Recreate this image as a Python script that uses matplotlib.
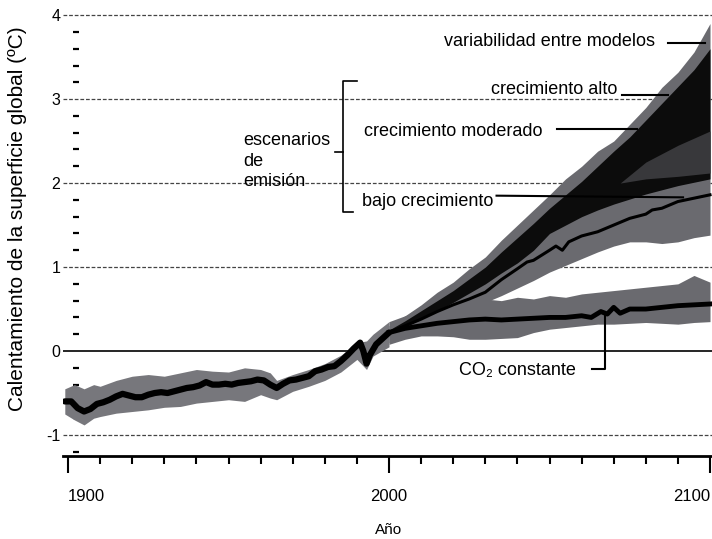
import numpy as np
import matplotlib
matplotlib.use('Agg')
import matplotlib.pyplot as plt
from matplotlib.ticker import MultipleLocator, FixedLocator

plt.rcParams['font.family'] = ['Liberation Sans', 'DejaVu Sans']
plt.rcParams['axes.unicode_minus'] = False

# --- observed record (1899-2000) ---
hist_years = [1899, 1901, 1903, 1905, 1907, 1909, 1911, 1913, 1915, 1917, 1919,
              1921, 1923, 1925, 1927, 1929, 1931, 1933, 1935, 1937, 1939, 1941,
              1943, 1945, 1947, 1949, 1951, 1953, 1955, 1957, 1959, 1961, 1963,
              1965, 1967, 1969, 1971, 1973, 1975, 1977, 1979, 1981, 1983, 1985,
              1987, 1989, 1991, 1992, 1993, 1994, 1996, 1998, 2000]
hist_temp = [-0.60, -0.60, -0.68, -0.72, -0.69, -0.63, -0.61, -0.58, -0.54,
             -0.51, -0.53, -0.55, -0.55, -0.52, -0.50, -0.49, -0.50, -0.48,
             -0.46, -0.44, -0.43, -0.41, -0.37, -0.40, -0.40, -0.39, -0.40,
             -0.38, -0.37, -0.36, -0.34, -0.35, -0.40, -0.44, -0.39, -0.35,
             -0.34, -0.32, -0.30, -0.24, -0.22, -0.19, -0.18, -0.12, -0.05,
             0.03, 0.10, 0.00, -0.15, -0.05, 0.08, 0.15, 0.22]

band_years = [1899, 1902, 1905, 1908, 1910, 1915, 1920, 1925, 1930, 1935, 1940,
              1945, 1950, 1955, 1960, 1963, 1965, 1970, 1975, 1980, 1985, 1990,
              1993, 1995, 2000]
band_lo = [-0.75, -0.82, -0.88, -0.80, -0.78, -0.74, -0.72, -0.70, -0.67, -0.66,
           -0.62, -0.60, -0.58, -0.60, -0.52, -0.56, -0.58, -0.48, -0.42, -0.35,
           -0.25, -0.10, -0.22, -0.06, 0.05]
band_hi = [-0.45, -0.40, -0.45, -0.40, -0.42, -0.35, -0.30, -0.28, -0.30, -0.26,
           -0.22, -0.24, -0.25, -0.20, -0.22, -0.26, -0.35, -0.28, -0.22, -0.15,
           -0.05, 0.10, 0.12, 0.20, 0.35]

# --- scenario projections (2000-2100) ---
fut_years = [2000, 2005, 2010, 2015, 2020, 2025, 2030, 2035, 2040, 2045, 2050,
             2055, 2060, 2065, 2070, 2075, 2080, 2085, 2090, 2095, 2100]
envelope_hi = [0.30, 0.42, 0.55, 0.70, 0.82, 0.98, 1.12, 1.32, 1.50, 1.68, 1.86,
               2.05, 2.20, 2.38, 2.50, 2.70, 2.90, 3.14, 3.32, 3.56, 3.90]
core_hi = [0.25, 0.36, 0.48, 0.60, 0.72, 0.86, 1.00, 1.18, 1.35, 1.52, 1.70,
           1.86, 2.02, 2.20, 2.38, 2.55, 2.75, 2.95, 3.15, 3.35, 3.60]
core_lo = [0.20, 0.29, 0.38, 0.48, 0.58, 0.69, 0.80, 0.93, 1.05, 1.20, 1.40,
           1.50, 1.60, 1.68, 1.75, 1.81, 1.87, 1.92, 1.97, 2.01, 2.05]
low_growth_lo = [0.10, 0.15, 0.22, 0.32, 0.42, 0.50, 0.58, 0.66, 0.75, 0.84,
                 0.94, 1.02, 1.10, 1.18, 1.25, 1.30, 1.30, 1.28, 1.30, 1.35, 1.38]

wedge_years = [2072, 2080, 2090, 2100]
wedge_lo = [2.00, 2.05, 2.08, 2.12]
wedge_hi = [2.00, 2.25, 2.45, 2.62]

low_years = [2000, 2005, 2010, 2015, 2020, 2025, 2030, 2035, 2040, 2043, 2045,
             2050, 2052, 2054, 2056, 2060, 2065, 2070, 2075, 2080, 2082, 2085,
             2090, 2095, 2100]
low_growth = [0.22, 0.30, 0.38, 0.47, 0.55, 0.62, 0.70, 0.85, 0.98, 1.06, 1.08,
              1.20, 1.25, 1.20, 1.30, 1.37, 1.42, 1.50, 1.58, 1.63, 1.68, 1.70,
              1.78, 1.82, 1.86]

co2_years = [2000, 2005, 2010, 2015, 2020, 2025, 2030, 2035, 2040, 2045, 2050,
             2055, 2060, 2063, 2066, 2068, 2070, 2072, 2075, 2080, 2085, 2090,
             2095, 2100]
co2_temp = [0.22, 0.27, 0.30, 0.33, 0.35, 0.37, 0.38, 0.37, 0.38, 0.39, 0.40,
            0.40, 0.42, 0.40, 0.47, 0.44, 0.52, 0.45, 0.50, 0.50, 0.52, 0.54,
            0.55, 0.56]
co2_band_years = fut_years
co2_hi = [0.35, 0.42, 0.48, 0.52, 0.56, 0.60, 0.62, 0.60, 0.64, 0.62, 0.66,
          0.64, 0.68, 0.70, 0.72, 0.74, 0.76, 0.78, 0.80, 0.90, 0.82]
co2_lo = [0.08, 0.14, 0.18, 0.18, 0.17, 0.14, 0.14, 0.15, 0.16, 0.22, 0.26,
          0.28, 0.30, 0.32, 0.32, 0.33, 0.34, 0.33, 0.32, 0.34, 0.35]

y_ticks = [-1, 0, 1, 2, 3, 4]
y_tick_labels = ['-1', '0', '1', '2', '3', '4']
x_ticks = [1900, 2000, 2100]
x_tick_labels = ['1900', '2000', '2100']

grey = '#6a6a6f'
hist_grey = '#77777c'

fig = plt.figure(figsize=(7.12, 5.39), dpi=100)
ax = fig.add_axes([63 / 712, 83 / 539, 649 / 712, 456 / 539])
ax.set_xlim(1898.44, 2100.62)
ax.set_ylim(-1.25, 4.18)

# gridlines and zero line
for yv in y_ticks:
    if yv == 0:
        ax.axhline(0, color='black', lw=1.2, zorder=1)
    else:
        ax.axhline(yv, color='#444444', lw=0.9, ls=(0, (3, 1.5)), zorder=1)

# observed
ax.fill_between(band_years, band_lo, band_hi, color=hist_grey, lw=0, zorder=2)

# scenarios
ax.fill_between(fut_years, low_growth_lo, envelope_hi, color=grey, lw=0, zorder=2)
ax.fill_between(fut_years, core_lo, core_hi, color='#0c0c0c', lw=0, zorder=3)
ax.fill_between(wedge_years, wedge_lo, wedge_hi, color='#38383b', lw=0, zorder=3.5)
ax.plot(low_years, low_growth, color='black', lw=2.2, zorder=4)

ax.fill_between(co2_band_years, co2_lo, co2_hi, color=grey, lw=0, zorder=2)
ax.plot(co2_years, co2_temp, color='black', lw=3.5, zorder=4)

ax.plot(hist_years, hist_temp, color='black', lw=4.5, zorder=5,
        solid_capstyle='round', solid_joinstyle='round')

# axes styling
for s in ['top', 'right', 'left']:
    ax.spines[s].set_visible(False)
ax.spines['bottom'].set_linewidth(2)
ax.spines['bottom'].set_position(('data', -1.25))

ax.xaxis.set_major_locator(FixedLocator(x_ticks))
ax.xaxis.set_minor_locator(MultipleLocator(10))
ax.set_xticklabels(x_tick_labels)
for lbl, ha in zip(ax.get_xticklabels(), ['left', 'center', 'right']):
    lbl.set_ha(ha)
ax.tick_params(axis='x', which='major', length=12, width=1.5, pad=12,
               labelsize=12)
ax.tick_params(axis='x', which='minor', length=6, width=1.5)

ax.set_yticks(y_ticks)
ax.set_yticklabels(y_tick_labels)
ax.yaxis.set_minor_locator(MultipleLocator(0.2))
ax.tick_params(axis='y', which='minor', direction='in', length=4, width=1.6,
               pad=0)
ax.spines['left'].set_position(('outward', -7))
ax.tick_params(axis='y', which='major', length=0, pad=9, labelsize=11.5)

ax.set_xlabel('Año', fontsize=11)
ax.xaxis.set_label_coords(0.502, -0.148)
ax.set_ylabel('Calentamiento de la superficie global (ºC)', fontsize=15)
ax.yaxis.set_label_coords(-0.056, 0.52)

# annotations
fs = 13
ax.text(2050, 3.68, 'variabilidad entre modelos', fontsize=fs,
        ha='center', va='center')
ax.plot([2087, 2098.5], [3.67, 3.67], color='black', lw=1.5, zorder=6)

ax.text(2071, 3.12, 'crecimiento alto', fontsize=fs, ha='right', va='center')
ax.plot([2072.6, 2087], [3.05, 3.05], color='black', lw=1.5, zorder=6)

ax.text(2047.7, 2.62, 'crecimiento moderado', fontsize=fs, ha='right',
        va='center')
ax.plot([2052.3, 2077.3], [2.64, 2.64], color='black', lw=1.5, zorder=6)

ax.text(1991.5, 1.78, 'bajo crecimiento', fontsize=fs, ha='left', va='center')
ax.plot([2033.5, 2091.6], [1.85, 1.83], color='black', lw=1.5, zorder=6)

ax.text(1954.5, 2.26, 'escenarios\nde\nemisión', fontsize=fs, ha='left',
        va='center', linespacing=1.25)
ax.plot([1990, 1985.7, 1985.7, 1988.7], [3.21, 3.21, 1.66, 1.66],
        color='black', lw=1.2, zorder=6)
ax.plot([1983.2, 1985.7], [2.37, 2.37], color='black', lw=1.2, zorder=6)

ax.text(2058.3, -0.23, 'CO₂ constante', fontsize=fs, ha='right', va='center')
ax.plot([2063.2, 2067.3, 2067.3], [-0.21, -0.21, 0.47], color='black',
        lw=1.5, zorder=6)

fig.savefig('out.png', dpi=100, facecolor='white')
plt.close(fig)
